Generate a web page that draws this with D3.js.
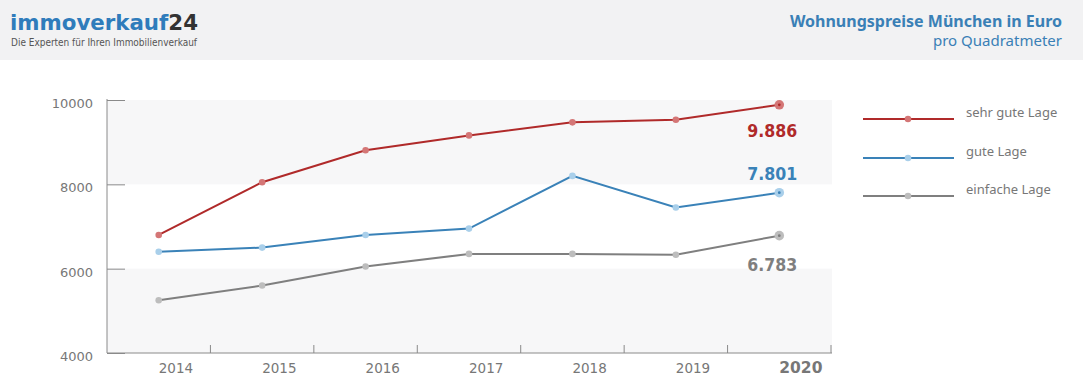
<!DOCTYPE html>
<html><head><meta charset="utf-8">
<script src="https://cdn.jsdelivr.net/npm/d3@7/dist/d3.min.js"></script>
<style>html,body{margin:0;padding:0;background:#fff;}svg{display:block;}</style>
</head><body>
<script>
const years = ["2014","2015","2016","2017","2018","2019","2020"];
const sehrGute = [6800, 8050, 8810, 9160, 9470, 9530, 9886];
const gute = [6400, 6500, 6800, 6950, 8200, 7450, 7801];
const einfache = [5250, 5600, 6050, 6350, 6350, 6330, 6783];
const seriesNames = ["sehr gute Lage", "gute Lage", "einfache Lage"];
const lastLabels = ["9.886", "7.801", "6.783"];
const yTicks = [4000, 6000, 8000, 10000];

const W = 1083, H = 380;
const svg = d3.select("body").append("svg").attr("width", W).attr("height", H);

// header
svg.append("rect").attr("x",0).attr("y",0).attr("width",W).attr("height",60).attr("fill","#f2f2f3");
const logo = svg.append("text").attr("x",10).attr("y",30)
  .style("font-family","DejaVu Sans").style("font-weight","bold").style("font-size","21.5px");
logo.append("tspan").attr("fill","#2f7cbb").text("immoverkauf");
logo.append("tspan").attr("fill","#333333").text("24");
logo.attr("textLength",188).attr("lengthAdjust","spacingAndGlyphs");
svg.append("text").attr("x",11).attr("y",45.5).attr("fill","#555")
  .style("font-family","DejaVu Sans Condensed").style("font-size","10.5px")
  .attr("textLength",186).attr("lengthAdjust","spacingAndGlyphs")
  .text("Die Experten für Ihren Immobilienverkauf");
svg.append("text").attr("x",1062).attr("y",27).attr("text-anchor","end").attr("fill","#3a80b6")
  .style("font-family","Noto Sans").style("font-weight","bold").style("font-size","16px")
  .text("Wohnungspreise München in Euro");
svg.append("text").attr("x",1062).attr("y",46).attr("text-anchor","end").attr("fill","#3a80b6")
  .style("font-family","Noto Sans").style("font-size","15px")
  .text("pro Quadratmeter");

// scales
const x = d3.scaleBand().domain(years).range([107, 831]).padding(0);
const y = d3.scaleLinear().domain([4000, 10000]).range([353, 100]);
const cx = d => x(d) + x.bandwidth()/2;

// bands
const bandPairs = [[10000,8000],[6000,4000]];
svg.selectAll("rect.band").data(bandPairs).join("rect").attr("class","band")
  .attr("x", 107).attr("width", 832-107)
  .attr("y", d => y(d[0])).attr("height", d => y(d[1]) - y(d[0]))
  .attr("fill", "#f7f7f8");

// axes
const axisColor = "#8a8a8a";
const yAxis = svg.append("g").attr("transform","translate(107,0)")
  .call(d3.axisRight(y).tickValues(yTicks).tickSize(18).tickFormat(""));
yAxis.select(".domain").remove();
yAxis.selectAll("line").attr("stroke", axisColor);
svg.append("line").attr("x1",107).attr("x2",107).attr("y1",99).attr("y2",353).attr("stroke",axisColor);
svg.append("line").attr("x1",107).attr("x2",832).attr("y1",353).attr("y2",353).attr("stroke",axisColor);
svg.selectAll("text.ylab").data(yTicks).join("text").attr("class","ylab")
  .attr("x",93).attr("y", d => y(d) + 8).attr("text-anchor","end").attr("fill","#777")
  .style("font-family","DejaVu Sans").style("font-size","13px").text(d => d);
// x ticks at band boundaries
const bounds = years.slice(1).map(d => x(d)).concat([x(years[years.length-1]) + x.bandwidth()]);
svg.selectAll("line.xt").data(bounds).join("line").attr("class","xt")
  .attr("x1", d => d).attr("x2", d => d).attr("y1", 345).attr("y2", 353).attr("stroke", axisColor);
svg.selectAll("text.xlab").data(years).join("text").attr("class","xlab")
  .attr("x", d => cx(d)).attr("y", 373).attr("fill","#777")
  .style("font-family","DejaVu Sans")
  .style("font-size", (d,i) => i === years.length-1 ? "15.5px" : "13.5px")
  .style("font-weight", (d,i) => i === years.length-1 ? "bold" : "normal")
  .text(d => d);

// series
const series = [
  {values: sehrGute, line: "#b02a2a", dot: "#d47676", labelColor: "#b02a2a", dy: 32.5},
  {values: gute, line: "#3a82b8", dot: "#a9cfea", labelColor: "#3a82b8", dy: -12.5},
  {values: einfache, line: "#7f7f7f", dot: "#bdbdbd", labelColor: "#7f7f7f", dy: 35}
];
const lineGen = d3.line().x((d,i) => cx(years[i])).y(d => y(d));
series.forEach((s, si) => {
  svg.append("path").attr("d", lineGen(s.values)).attr("fill","none")
    .attr("stroke", s.line).attr("stroke-width", 2);
  svg.selectAll(null).data(s.values).join("circle")
    .attr("cx", (d,i) => cx(years[i])).attr("cy", d => y(d))
    .attr("r", (d,i) => i === years.length-1 ? 4.8 : 3.3)
    .attr("fill", s.dot);
  const lv = s.values[s.values.length-1];
  const lx = cx(years[years.length-1]);
  svg.append("circle").attr("cx", lx).attr("cy", y(lv)).attr("r", 1.4).attr("fill", s.line);
  svg.append("text").attr("x", lx + 18).attr("y", y(lv) + s.dy).attr("text-anchor","end")
    .attr("fill", s.labelColor).style("font-family","DejaVu Sans").style("font-weight","bold")
    .style("font-size","18px").attr("textLength", 50).attr("lengthAdjust","spacingAndGlyphs")
    .text(lastLabels[si]);
});

// legend
const legY = [119, 158, 196];
series.forEach((s, i) => {
  svg.append("line").attr("x1",863).attr("x2",954).attr("y1",legY[i]).attr("y2",legY[i])
    .attr("stroke", s.line).attr("stroke-width", 2);
  svg.append("circle").attr("cx",908).attr("cy",legY[i]).attr("r",3.3).attr("fill", s.dot);
  svg.append("text").attr("x",966).attr("y",legY[i]-2.5).attr("fill","#777")
    .style("font-family","Noto Sans").style("font-size","13px").text(seriesNames[i]);
});
</script>
</body></html>
